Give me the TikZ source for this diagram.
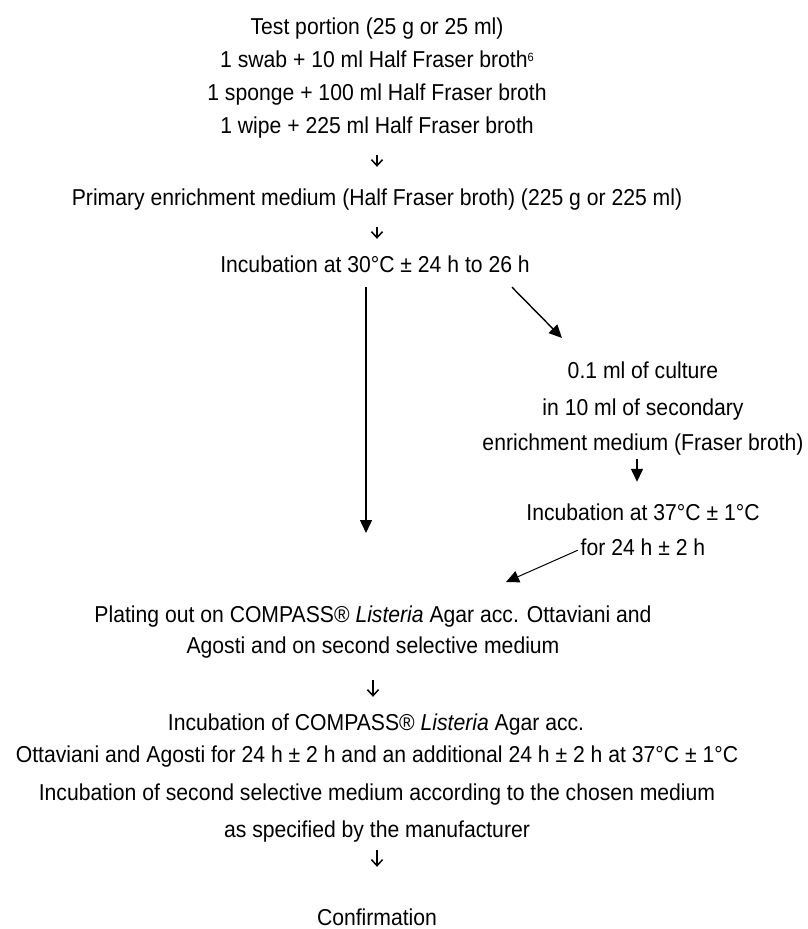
\documentclass[tikz,border=0pt]{standalone}
\usepackage{fontspec}
\setmainfont{Liberation Sans}[FakeStretch=0.92]
\usetikzlibrary{arrows.meta}

\tikzset{
  txt/.style={inner sep=0pt, text height=17pt, text depth=5pt, anchor=base},
  glyph/.style={line width=1.5pt, -{Straight Barb[length=6pt,width=11pt]}},
  arr/.style={line width=1.4pt, -{Triangle[length=13pt,width=12pt]}}
}

\begin{document}
\begin{tikzpicture}[x=1pt, y=-1pt, font=\fontsize{23}{23}\selectfont]
\useasboundingbox (0,0) rectangle (808,929);

\node[txt] at (377,34) (test) {Test portion (25 g or 25 ml)};
\node[txt] at (377,67) (swab) {1 swab + 10 ml Half Fraser broth\raisebox{6pt}{\fontsize{12}{12}\selectfont 6}};
\node[txt] at (377,100) (sponge) {1 sponge + 100 ml Half Fraser broth};
\node[txt] at (377,133) (wipe) {1 wipe + 225 ml Half Fraser broth};
\node[txt] at (377,205) (prim) {Primary enrichment medium (Half Fraser broth) (225 g or 225 ml)};
\node[txt] at (375,272) (inc) {Incubation at 30°C ± 24 h to 26 h};

\node[txt] at (643,378) (cult) {0.1 ml of culture};
\node[txt] at (643,415) (sec) {in 10 ml of secondary};
\node[txt] at (643,450) (enr) {enrichment medium (Fraser broth)};
\node[txt] at (643,520) (incb) {Incubation at 37°C ± 1°C};
\node[txt] at (643,555) (forb) {for 24 h ± 2 h};

\node[txt] at (373,622) (plat) {Plating out on COMPASS® \textit{Listeria} Agar acc. Ottaviani and};
\node[txt] at (373,653) (agos) {Agosti and on second selective medium};
\node[txt] at (376,730) (incc) {Incubation of COMPASS® \textit{Listeria} Agar acc.};
\node[txt] at (377,762) (otta) {Ottaviani and Agosti for 24 h ± 2 h and an additional 24 h ± 2 h at 37°C ± 1°C};
\node[txt] at (377,800) (incs) {Incubation of second selective medium according to the chosen medium};
\node[txt] at (377,837) (spec) {as specified by the manufacturer};
\node[txt] at (377,925) (conf) {Confirmation};

\coordinate (downend) at (366,533);
\coordinate (diagend) at (562,338);
\coordinate (platend) at (506,582);

\draw[glyph, shorten <=17pt, shorten >=21pt] (wipe.south) -- (prim.north);
\draw[glyph, shorten <=17pt, shorten >=16pt] (prim.south) -- ([xshift=2pt]inc.north);
\draw[arr] ([shift={(-9,10)}]inc.south) -- (downend);
\draw[arr] ([shift={(137,10)}]inc.south) -- (diagend);
\draw[arr, shorten <=4pt, shorten >=21pt] ([xshift=-6pt]enr.south) -- ([xshift=-6pt]incb.north);
\draw[arr, line width=1pt, shorten <=3pt] (forb.west) -- (platend);
\draw[glyph, shorten <=22pt, shorten >=16pt] (agos.south) -- ([xshift=-3pt]incc.north);
\draw[glyph, shorten <=8pt, shorten >=41pt] (spec.south) -- (conf.north);
\end{tikzpicture}
\end{document}
